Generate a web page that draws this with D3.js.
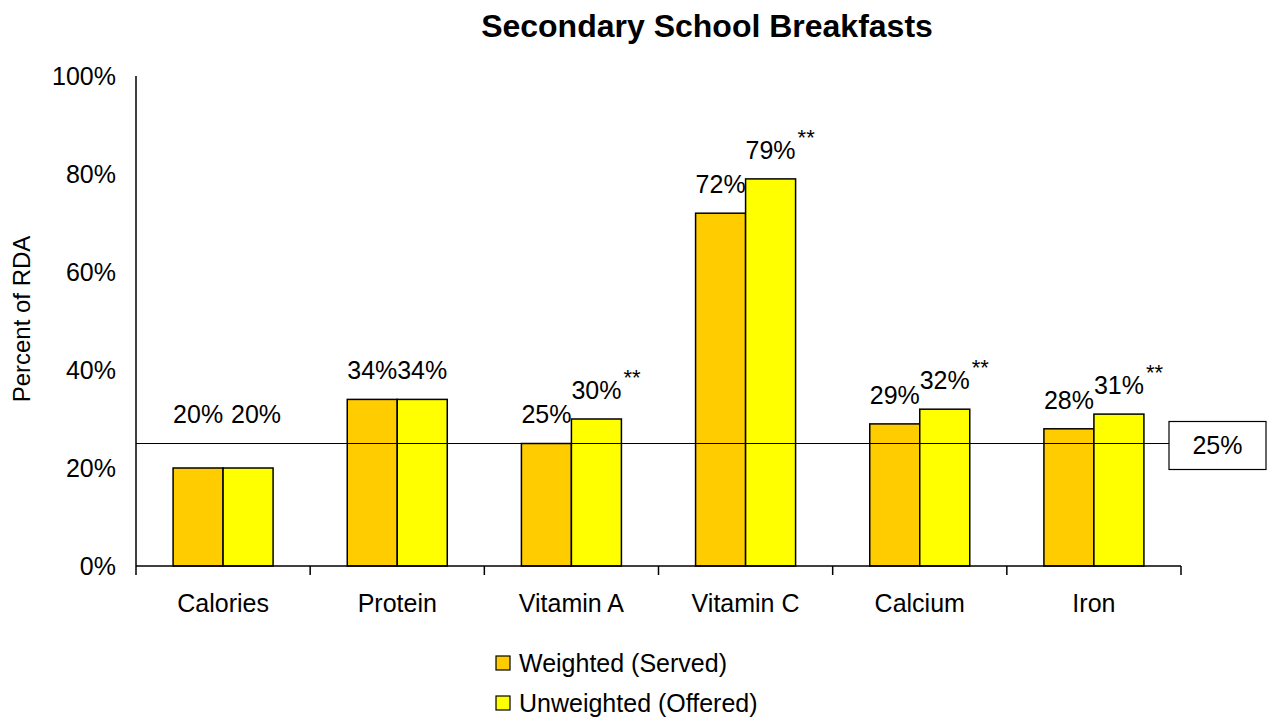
<!DOCTYPE html>
<meta charset="utf-8">
<style>
body { margin: 0; background: #fff; }
text { font-family: "Liberation Sans", Arial, sans-serif; fill: #000; }
.bar { stroke: #000; stroke-width: 1.5; }
</style>
<body>
<div id="chart"></div>
<script src="https://d3js.org/d3.v7.min.js"></script>
<script>
// data
var categories = ["Calories", "Protein", "Vitamin A", "Vitamin C", "Calcium", "Iron"];
var weighted = [20, 34, 25, 72, 29, 28];
var unweighted = [20, 34, 30, 79, 32, 31];
var starred = [false, false, true, true, true, true]; // "**" on unweighted labels
var seriesNames = ["Weighted (Served)", "Unweighted (Offered)"];
var seriesColors = ["#FFCC00", "#FFFF00"];
var yTicks = [0, 20, 40, 60, 80, 100];
var refValue = 25;

var W = 1274, H = 719;
var margin = {top: 76, right: 93, bottom: 153, left: 136};
var width = W - margin.left - margin.right,
    height = H - margin.top - margin.bottom;

var svg = d3.select("#chart").append("svg")
    .attr("width", W)
    .attr("height", H);

svg.append("text")
    .attr("x", 707)
    .attr("y", 37)
    .attr("text-anchor", "middle")
    .style("font-size", "32px")
    .style("font-weight", "bold")
    .text("Secondary School Breakfasts");

var g = svg.append("g")
    .attr("transform", "translate(" + margin.left + "," + margin.top + ")");

var x = d3.scaleBand().domain(categories).range([0, width]);
var y = d3.scaleLinear().domain([0, 100]).range([height, 0]);
var barW = 50;

var rows = categories.map(function(c, i) {
  return {cat: c, vals: [weighted[i], unweighted[i]], star: starred[i]};
});

// y axis: line + labels, no ticks
g.append("line")
    .attr("x1", 0).attr("x2", 0)
    .attr("y1", 0).attr("y2", height)
    .attr("stroke", "#000").attr("stroke-width", 1.5);

g.selectAll(".ylab")
    .data(yTicks)
  .enter().append("text")
    .attr("class", "ylab")
    .attr("x", -20)
    .attr("y", function(d) { return y(d); })
    .attr("dy", "0.35em")
    .attr("text-anchor", "end")
    .style("font-size", "25px")
    .text(function(d) { return d + "%"; });

svg.append("text")
    .attr("transform", "translate(30," + (margin.top + height / 2 - 2) + ") rotate(-90)")
    .attr("text-anchor", "middle")
    .style("font-size", "24px")
    .text("Percent of RDA");

// bars
var groups = g.selectAll(".grp")
    .data(rows)
  .enter().append("g")
    .attr("class", "grp")
    .attr("transform", function(d) { return "translate(" + (x(d.cat) + x.bandwidth() / 2 - barW) + ",0)"; });

groups.selectAll("rect")
    .data(function(d) { return d.vals; })
  .enter().append("rect")
    .attr("class", "bar")
    .attr("x", function(d, i) { return i * barW; })
    .attr("y", function(d) { return y(d); })
    .attr("width", barW)
    .attr("height", function(d) { return height - y(d); })
    .attr("fill", function(d, i) { return seriesColors[i]; });

// x axis
g.append("line")
    .attr("x1", 0).attr("x2", width)
    .attr("y1", height).attr("y2", height)
    .attr("stroke", "#000").attr("stroke-width", 1.5);

g.selectAll(".xtick")
    .data(d3.range(categories.length + 1))
  .enter().append("line")
    .attr("class", "xtick")
    .attr("x1", function(i) { return i * x.step(); })
    .attr("x2", function(i) { return i * x.step(); })
    .attr("y1", height).attr("y2", height + 9)
    .attr("stroke", "#000").attr("stroke-width", 1.5);

g.selectAll(".xlab")
    .data(categories)
  .enter().append("text")
    .attr("class", "xlab")
    .attr("x", function(d) { return x(d) + x.bandwidth() / 2; })
    .attr("y", height + 37)
    .attr("dy", "0.35em")
    .attr("text-anchor", "middle")
    .style("font-size", "25px")
    .text(function(d) { return d; });

// 25% reference line with boxed label
var boxX = 1169 - margin.left;
g.append("line")
    .attr("x1", 0).attr("x2", boxX)
    .attr("y1", y(refValue)).attr("y2", y(refValue))
    .attr("stroke", "#000").attr("stroke-width", 1.2);

g.append("rect")
    .attr("x", boxX).attr("y", y(refValue) - 22)
    .attr("width", 97).attr("height", 48)
    .attr("fill", "#fff").attr("stroke", "#000").attr("stroke-width", 1.2);

g.append("text")
    .attr("x", boxX + 48.5).attr("y", y(refValue) + 2)
    .attr("dy", "0.35em")
    .attr("text-anchor", "middle")
    .style("font-size", "25px")
    .text(refValue + "%");

// value labels (labels of bars under the 25% line sit above that line)
groups.each(function(d) {
  var grp = d3.select(this);
  d.vals.forEach(function(v, i) {
    var under = y(v) > y(refValue);
    var ly = Math.min(y(v), y(refValue)) - 29;
    var cx = i * barW + barW / 2 + (under && i === 1 ? 8 : 0);
    grp.append("text")
        .attr("x", cx)
        .attr("y", ly)
        .attr("dy", "0.35em")
        .attr("text-anchor", "middle")
        .style("font-size", "25px")
        .text(v + "%");
    if (i === 1 && d.star) {
      grp.append("text")
          .attr("x", cx + 27)
          .attr("y", ly - 5)
          .style("font-size", "22px")
          .text("**");
    }
  });
});

// legend
var legend = svg.selectAll(".leg")
    .data(seriesNames)
  .enter().append("g")
    .attr("class", "leg")
    .attr("transform", function(d, i) { return "translate(496," + (663 + i * 40) + ")"; });

legend.append("rect")
    .attr("x", 0).attr("y", -7)
    .attr("width", 14).attr("height", 14)
    .attr("fill", function(d, i) { return seriesColors[i]; })
    .attr("stroke", "#000").attr("stroke-width", 1.2);

legend.append("text")
    .attr("x", 23).attr("y", 0)
    .attr("dy", "0.35em")
    .style("font-size", "25px")
    .text(function(d) { return d; });
</script>
</body>
